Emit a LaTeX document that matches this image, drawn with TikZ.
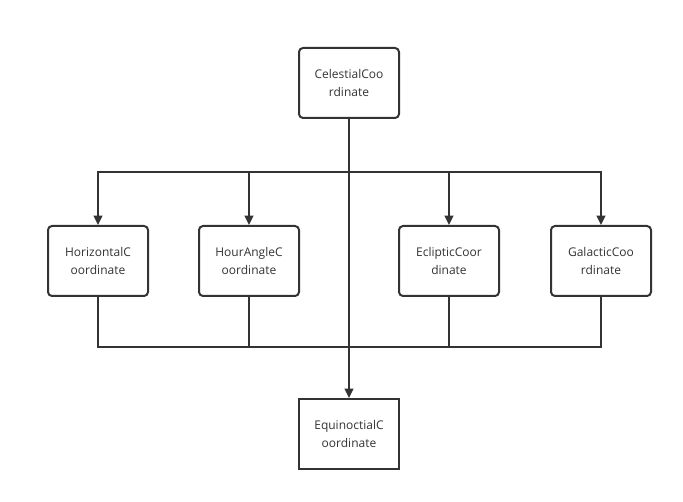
\documentclass[tikz,border=0pt]{standalone}
\usepackage{fontspec}
\setmainfont{Open Sans}
\usetikzlibrary{arrows.meta,positioning}
\definecolor{linegray}{RGB}{51,51,51}

\tikzset{
  coord/.style={draw=linegray, line width=1.5pt, rounded corners=3pt, minimum width=75pt,
    minimum height=52.5pt, align=center, inner sep=0pt, text=linegray,
    font=\fontsize{9}{13.5}\selectfont},
  link/.style={draw=linegray, line width=1.5pt},
  arr/.style={link, -{Triangle[length=7pt,width=6.5pt]}}
}

\begin{document}
\begin{tikzpicture}[x=0.75pt, y=-0.75pt]
    \useasboundingbox (0,0) rectangle (683,502);
    \node [coord] (cel) at (349,83) {CelestialCoo\\rdinate};
    \node [coord] (hor) at (98,261) {HorizontalC\\oordinate};
    \node [coord] (hour) at (249,261) {HourAngleC\\oordinate};
    \node [coord] (ecl) at (449,261) {EclipticCoor\\dinate};
    \node [coord] (gal) at (601,261) {GalacticCoo\\rdinate};
    \node [coord, rounded corners=0pt] (equ) at (349,434) {EquinoctialC\\oordinate};
    \coordinate (split) at (349,172);
    \coordinate (join) at (349,347);
    \draw [arr] (cel) -- (equ);
    \draw [arr] (split) -| (hor);
    \draw [arr] (split) -| (hour);
    \draw [arr] (split) -| (ecl);
    \draw [arr] (split) -| (gal);
    \draw [link] (hor) |- (join);
    \draw [link] (hour) |- (join);
    \draw [link] (ecl) |- (join);
    \draw [link] (gal) |- (join);
  \end{tikzpicture}
\end{document}
